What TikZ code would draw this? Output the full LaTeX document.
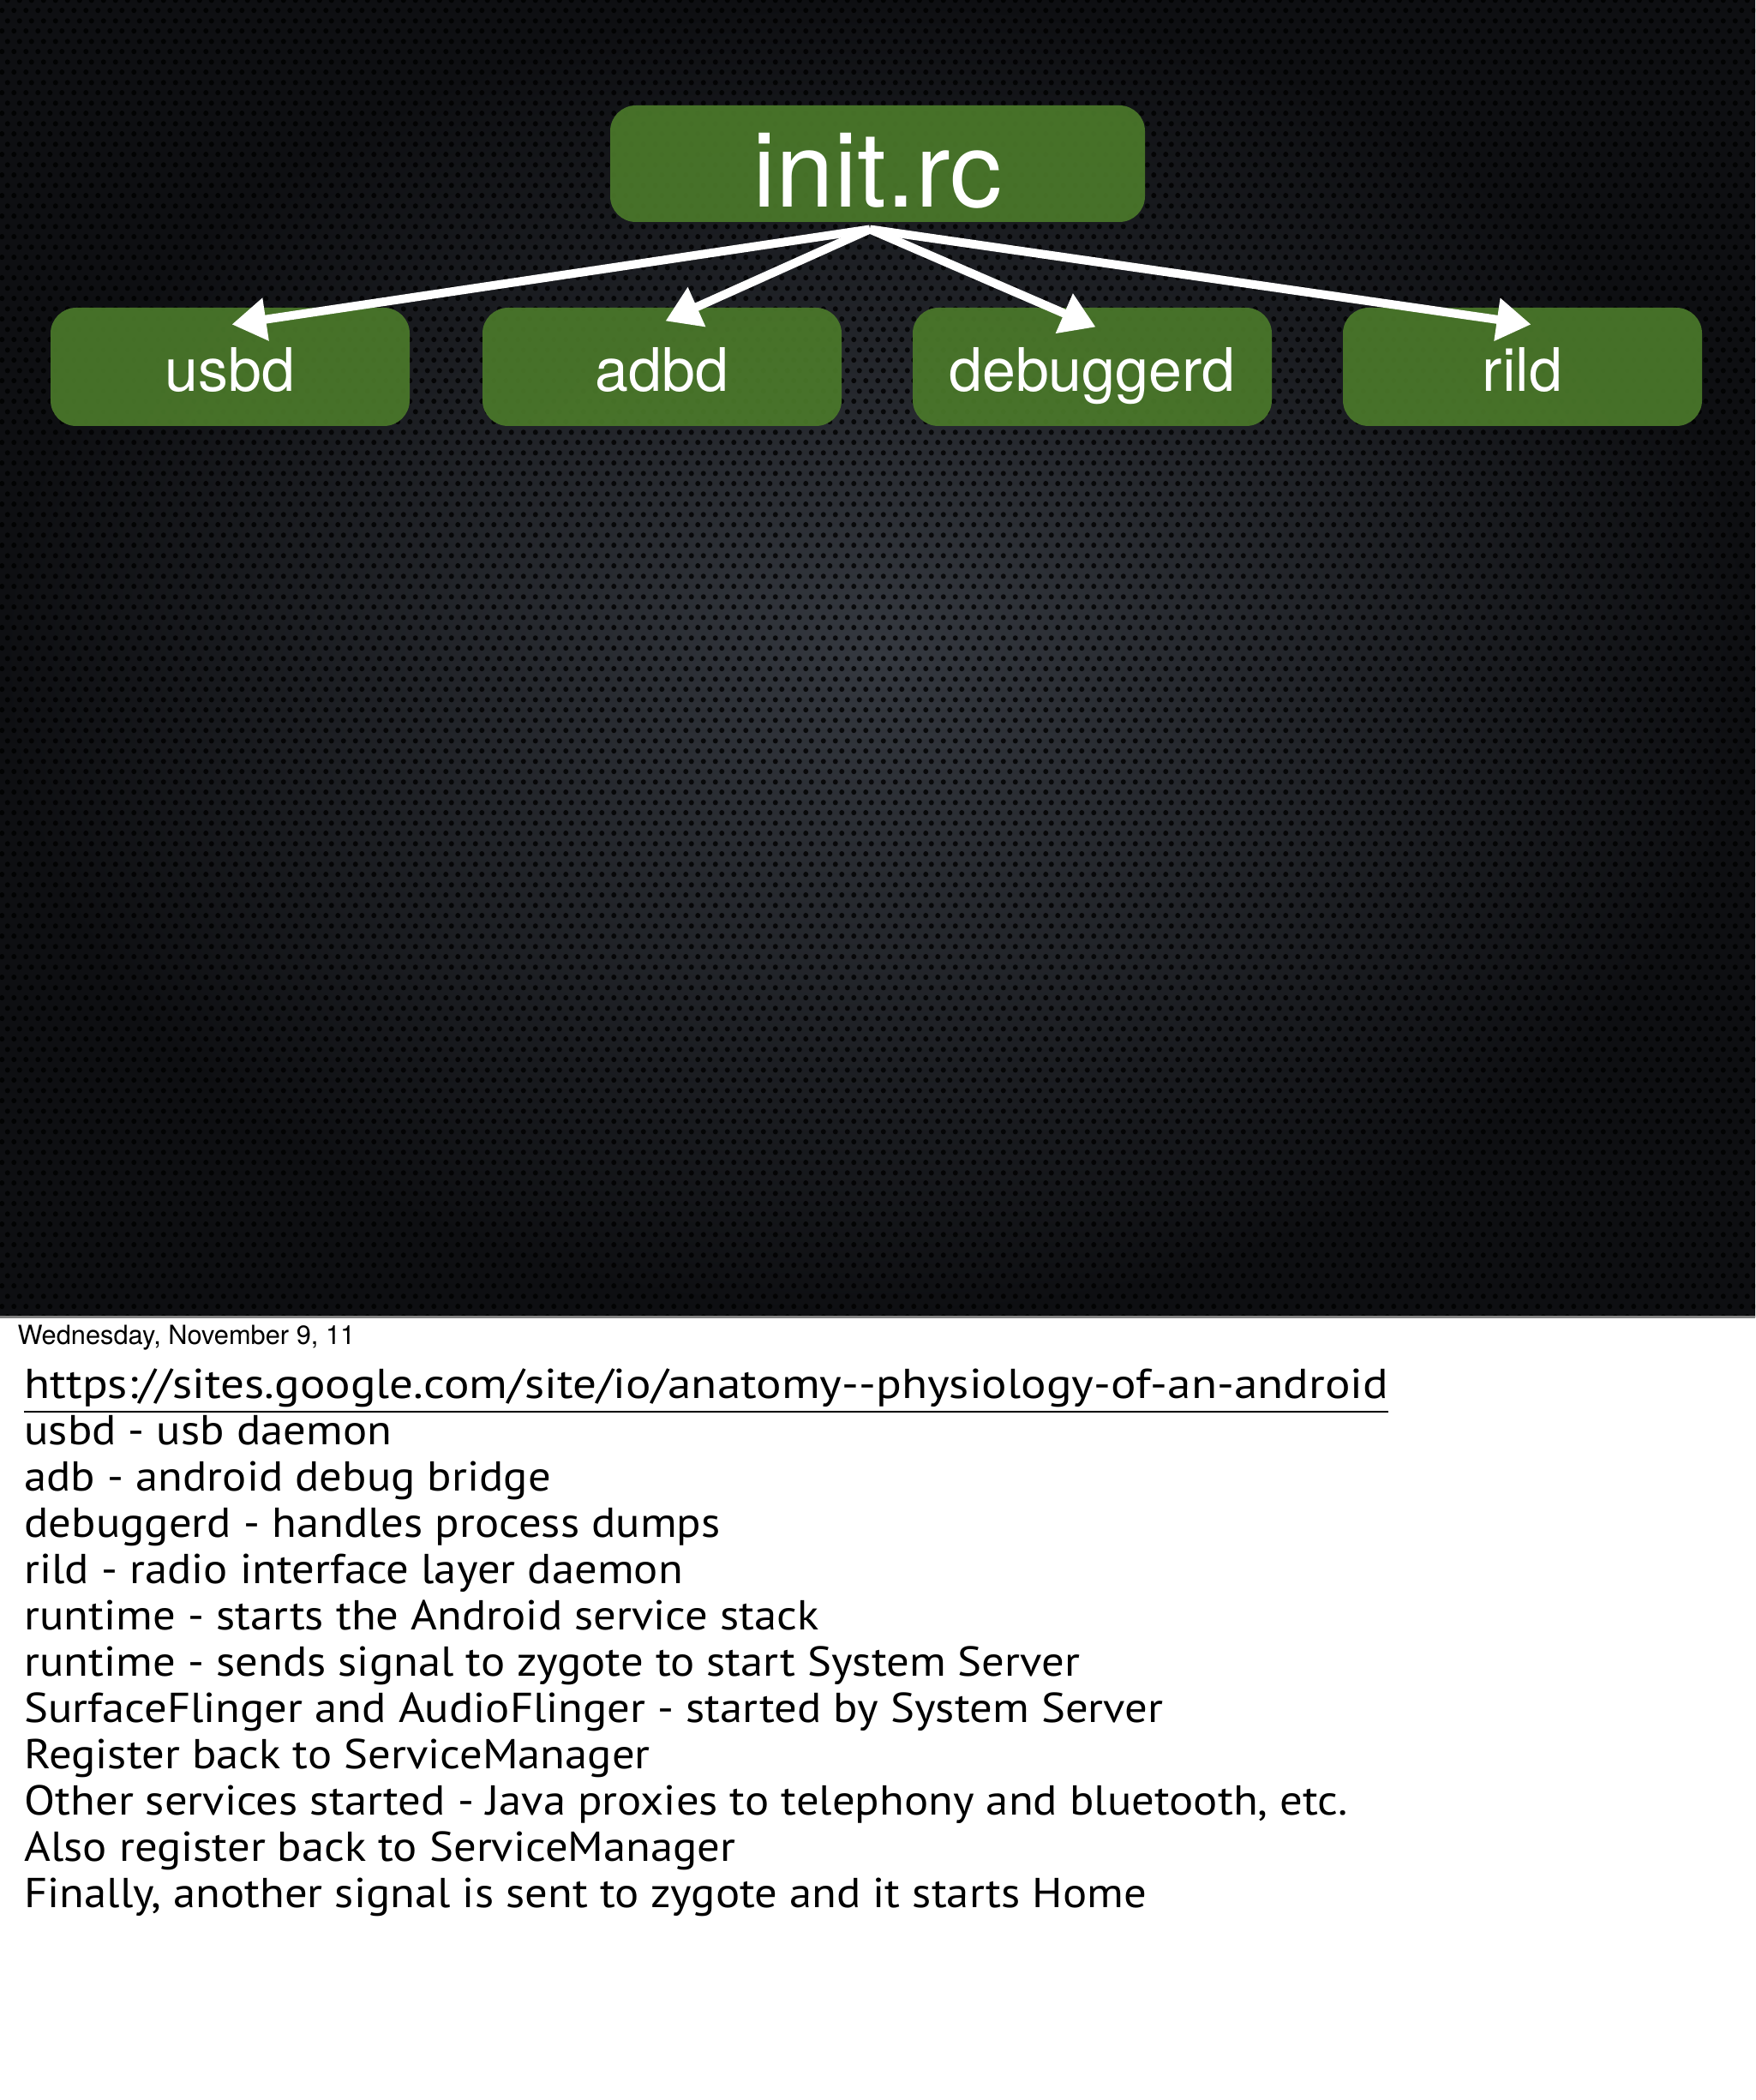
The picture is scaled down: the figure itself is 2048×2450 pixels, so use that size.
\documentclass[tikz,border=0pt]{standalone}
\usepackage{fontspec}
\setmainfont{TeX Gyre Heros}
\newfontfamily\notesfont[FakeStretch=1.08]{PT Sans}
\newfontfamily\linkfont[FakeStretch=1.13]{PT Sans}
\usetikzlibrary{arrows.meta,patterns.meta,calc}

\definecolor{boxgreen}{RGB}{74,120,42}
\definecolor{slidemid}{RGB}{52,56,63}
\definecolor{slideedge}{RGB}{14,15,18}

\tikzdeclarepattern{
	name=mesh,
	type=uncolored,
	bottom left={(0pt,0pt)},
	top right={(3.5pt,6.06pt)},
	tile size={(3.5pt,6.06pt)},
	code={
		\fill (0.875pt,1.516pt) circle (0.8pt);
		\fill (2.625pt,4.547pt) circle (0.8pt);
	}}
\tikzset{every picture/.style={line width=0.75pt}}
\tikzset{
	rcbox/.style={fill=boxgreen, fill opacity=0.93, text opacity=1, text=white, rounded corners=7.5pt,
		minimum width=156pt, minimum height=34pt, text height=25.5pt, text depth=0pt,
		font=\fontsize{30.5}{36}\selectfont},
	daemonbox/.style={fill=boxgreen, fill opacity=0.93, text opacity=1, text=white, rounded corners=7.5pt,
		minimum width=104.75pt, minimum height=34.5pt, text height=14pt, text depth=0pt,
		font=\fontsize{17.5}{21}\selectfont},
	spawn/.style={draw=white, line width=2.5pt, -{Triangle[length=10pt,width=12pt]}}
}

\begin{document}
\begin{tikzpicture}[x=0.25pt,y=0.25pt,yscale=-1,xscale=1]
	\useasboundingbox (0,0) rectangle (2048,2450);

	%Shape: Rectangle [page]
	\fill [white] (0,0) rectangle (2048,2450);
	%Shape: Rectangle [slide]
	\shade [inner color=slidemid, outer color=slideedge] (0,0) rectangle (2048,1536);
	\fill [pattern=mesh, pattern color=black, fill opacity=0.8] (0,0) rectangle (2048,1536);
	%Straight Lines [slide edge]
	\draw [gray] (0,1536) -- (2048,1536);

	% Boxes
	\node [rcbox] (initrc) at (1024,191) {init.rc};
	\node [daemonbox] (usbd) at (268.5,428) {usbd};
	\node [daemonbox] (adbd) at (772.5,428) {adbd};
	\node [daemonbox] (debuggerd) at (1274.5,428) {debuggerd};
	\node [daemonbox] (rild) at (1776.5,428) {rild};

	% Arrows
	\coordinate (fork) at ($(initrc.south)+(-9,7)$);
	\draw [spawn] (fork) -- ($(usbd.north)+(2,21)$);
	\draw [spawn] (fork) -- ($(adbd.north)+(4,17)$);
	\draw [spawn] (fork) -- ($(debuggerd.north)+(4,24)$);
	\draw [spawn] (fork) -- ($(rild.north)+(10,21)$);

	% Text Node
	\node [anchor=base west, inner sep=0pt, font=\fontsize{7.7}{9}\selectfont] (stamp) at (19,1568) {Wednesday, November 9, 11};
	% Text Node
	\node [anchor=north west, inner sep=0pt, align=left, font=\notesfont\fontsize{12.2}{13.5}\selectfont] (notes) at (27,1595) {%
		{\linkfont\underline{https://sites.google.com/site/io/anatomy-{}-physiology-of-an-android}}\\
		usbd - usb daemon\\
		adb - android debug bridge\\
		debuggerd - handles process dumps\\
		rild - radio interface layer daemon\\
		runtime - starts the Android service stack\\
		runtime - sends signal to zygote to start System Server\\
		SurfaceFlinger and AudioFlinger - started by System Server\\
		Register back to ServiceManager\\
		Other services started - Java proxies to telephony and bluetooth, etc.\\
		Also register back to ServiceManager\\
		Finally, another signal is sent to zygote and it starts Home};

\end{tikzpicture}
\end{document}
